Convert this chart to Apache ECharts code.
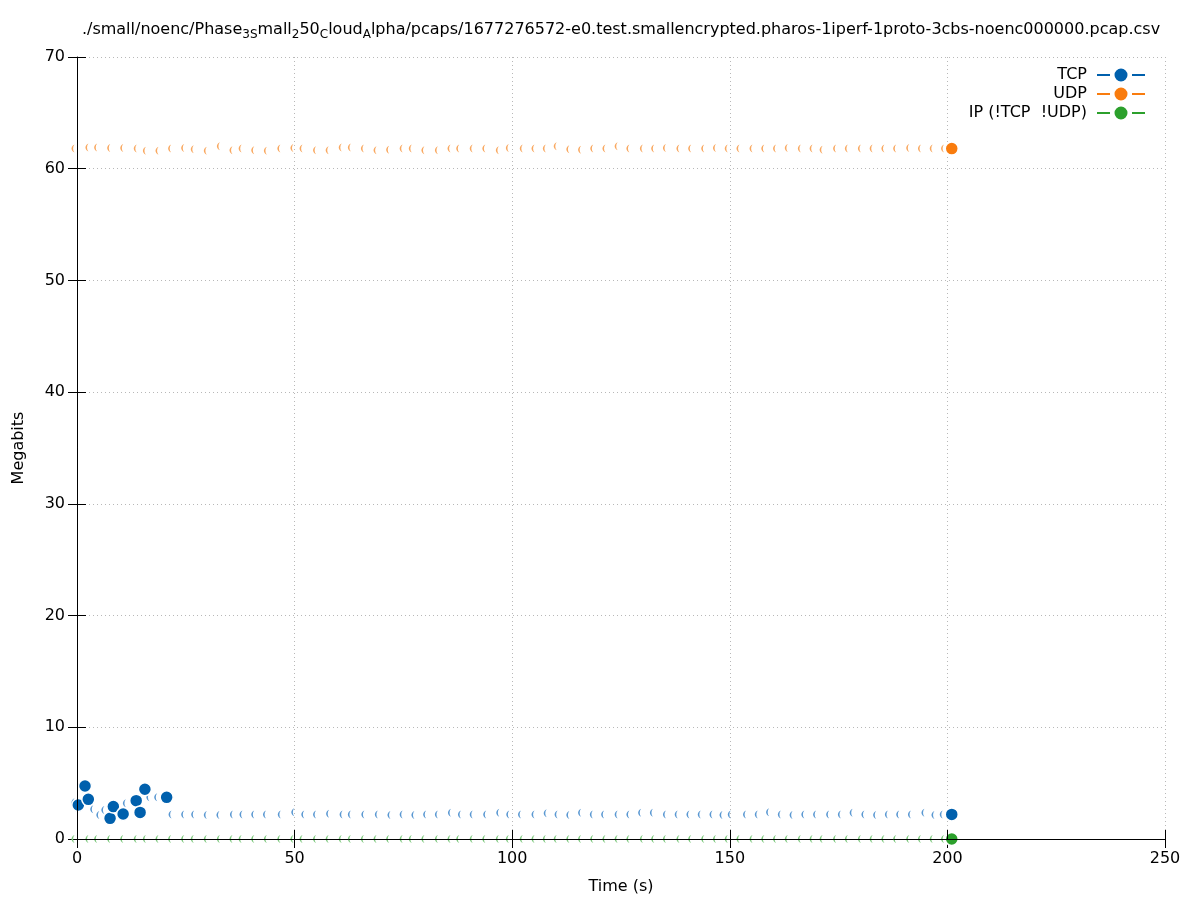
<!DOCTYPE html>
<html>
<head>
<meta charset="utf-8">
<script src="https://cdn.jsdelivr.net/npm/echarts@6/dist/echarts.min.js"></script>
<style>html,body{margin:0;padding:0;background:#fff}#c{width:1197px;height:900px}</style>
</head>
<body>
<div id="c"></div>
<script>
// ---- data ----
const seriesNames = ['TCP', 'UDP', 'IP (!TCP  !UDP)'];
const mainColors = ['#0060ad', '#f97c0e', '#2ca02c'];
const arcColors = ['#5a98d2', '#f9a860', '#7cc87c'];
const xTicks = [0, 50, 100, 150, 200, 250];
const yTicks = [0, 10, 20, 30, 40, 50, 60, 70];

// TCP: faint sample marks
const tcpTimes = [0, 4.3, 5.7, 6.85, 11.8, 17.2, 19.0, 22.3, 25.2, 27.5, 30.4, 33.3, 36.4, 38.6, 41.3, 44.0, 47.4, 50.5, 52.8, 55.5, 58.5, 61.6, 63.5, 66.6, 69.7, 72.6, 75.4, 78.1, 80.8, 83.5, 86.5, 88.8, 91.5, 94.6, 97.6, 99.9, 102.6, 105.7, 108.5, 111.0, 113.7, 116.4, 119.1, 121.7, 124.8, 127.5, 130.2, 132.9, 135.9, 138.6, 141.3, 143.9, 146.6, 148.9, 150.8, 154.3, 157.0, 159.6, 162.3, 165.0, 167.7, 170.4, 173.4, 176.1, 178.8, 181.5, 184.2, 186.9, 189.5, 192.2, 195.3, 197.6, 199.5];
const tcpValues = [3.3, 2.66, 2.15, 2.6, 3.2, 3.73, 3.73, 2.2, 2.2, 2.2, 2.15, 2.15, 2.2, 2.2, 2.2, 2.2, 2.2, 2.4, 2.2, 2.2, 2.25, 2.2, 2.2, 2.2, 2.2, 2.15, 2.2, 2.15, 2.2, 2.2, 2.35, 2.2, 2.2, 2.2, 2.35, 2.2, 2.2, 2.2, 2.3, 2.2, 2.15, 2.35, 2.2, 2.2, 2.2, 2.2, 2.35, 2.35, 2.2, 2.2, 2.2, 2.2, 2.2, 2.15, 2.2, 2.2, 2.2, 2.4, 2.2, 2.15, 2.2, 2.2, 2.2, 2.2, 2.35, 2.2, 2.15, 2.2, 2.2, 2.2, 2.35, 2.15, 2.2];
// TCP: full markers
const tcpDotTimes = [0.3, 1.84, 2.6, 7.6, 8.35, 10.6, 13.6, 14.5, 15.6, 20.6, 201];
const tcpDotValues = [3.04, 4.74, 3.55, 1.85, 2.9, 2.24, 3.43, 2.38, 4.45, 3.73, 2.2];

// UDP
const udpTimes = [0, 3.2, 5.2, 8.2, 11.2, 14.3, 16.4, 19.3, 22.2, 25.2, 27.4, 30.4, 33.4, 36.3, 38.4, 41.3, 44.2, 47.3, 50.3, 52.4, 55.5, 58.4, 61.4, 63.5, 66.5, 69.4, 72.3, 75.4, 77.5, 80.4, 83.5, 86.4, 88.4, 91.5, 94.4, 97.5, 99.8, 103.0, 105.7, 108.3, 110.8, 113.7, 116.4, 119.2, 122.0, 124.8, 127.5, 130.6, 133.2, 135.9, 139.0, 141.7, 144.7, 147.4, 150.1, 152.8, 155.8, 158.5, 161.2, 163.9, 166.9, 169.6, 171.9, 175.0, 177.7, 180.7, 183.4, 186.1, 188.8, 191.8, 194.5, 197.2, 199.8];
const udpValues = [61.8, 61.9, 61.9, 61.85, 61.85, 61.8, 61.6, 61.6, 61.8, 61.85, 61.75, 61.6, 62.0, 61.65, 61.8, 61.65, 61.6, 61.8, 61.85, 61.8, 61.65, 61.65, 61.9, 61.9, 61.8, 61.65, 61.7, 61.8, 61.8, 61.65, 61.65, 61.8, 61.8, 61.8, 61.8, 61.65, 61.85, 61.8, 61.8, 61.8, 62.0, 61.75, 61.7, 61.8, 61.8, 62.0, 61.8, 61.8, 61.8, 61.85, 61.8, 61.8, 61.8, 61.85, 61.8, 61.8, 61.8, 61.8, 61.8, 61.85, 61.8, 61.8, 61.7, 61.8, 61.8, 61.8, 61.8, 61.8, 61.8, 61.85, 61.8, 61.8, 61.8];
const udpDotTimes = [201];
const udpDotValues = [61.8];

// IP (!TCP !UDP)
const ipTimes = udpTimes;
const ipValues = [0,0,0,0,0,0,0,0,0,0,0,0,0,0,0,0,0,0,0,0,0,0,0,0,0,0,0,0,0,0,0,0,0,0,0,0,0,0,0,0,0,0,0,0,0,0,0,0,0,0,0,0,0,0,0,0,0,0,0,0,0,0,0,0,0,0,0,0,0,0,0,0,0];
const ipDotTimes = [201];
const ipDotValues = [0];

const titleParts = [
  ['n', './small/noenc/Phase'], ['s', '3S'], ['n', 'mall'], ['s', '2'], ['n', '50'], ['s', 'C'],
  ['n', 'loud'], ['s', 'A'], ['n', 'lpha/pcaps/1677276572-e0.test.smallencrypted.pharos-1iperf-1proto-3cbs-noenc000000.pcap.csv']
];

// ---- chart ----
const FONT = 'DejaVu Sans';
const FS = 16;
const pair = (t, v) => t.map((x, i) => [x, v[i]]);
const arcPath = 'path://M3,0 C0,2 0,6 3,8 C1.6,6 1.6,2 3,0 Z';
const legendIcon = 'path://M0,5.5h13v2h-13z M35,5.5h13v2h-13z M17.5,6.5a6.5,6.5 0 1,0 13,0a6.5,6.5 0 1,0 -13,0z';

const arcsets = [pair(tcpTimes, tcpValues), pair(udpTimes, udpValues), pair(ipTimes, ipValues)];
const dotsets = [pair(tcpDotTimes, tcpDotValues), pair(udpDotTimes, udpDotValues), pair(ipDotTimes, ipDotValues)];

const series = [];
seriesNames.forEach((name, k) => {
  series.push({
    name, type: 'scatter', z: 2, data: arcsets[k], symbol: arcPath, symbolSize: [3, 8], symbolOffset: [-4, 0],
    itemStyle: { color: arcColors[k], opacity: 1 }, silent: true
  });
});
seriesNames.forEach((name, k) => {
  series.push({
    name, type: 'scatter', z: 3, data: dotsets[k], symbol: 'circle', symbolSize: 13,
    itemStyle: { color: mainColors[k], borderColor: '#fff', borderWidth: 1.5, opacity: 1 }, silent: true
  });
});

const legends = seriesNames.map((name, k) => ({
  data: [{ name, icon: legendIcon, itemStyle: { color: mainColors[k], borderWidth: 0, opacity: 1 } }],
  orient: 'vertical', align: 'right', right: 52, top: 67 + k * 19, padding: 0,
  itemWidth: 48, itemHeight: 13, selectedMode: false,
  textStyle: { fontSize: FS, color: '#000', fontFamily: FONT, padding: [0, 5, 0, 0] }
}));

const baseAxisX = { type: 'value', min: xTicks[0], max: xTicks[xTicks.length - 1], interval: xTicks[1] - xTicks[0] };
const baseAxisY = { type: 'value', min: yTicks[0], max: yTicks[yTicks.length - 1], interval: yTicks[1] - yTicks[0] };
const gridLine = { show: true, lineStyle: { color: '#b8b8b8', width: 1, type: [1, 3] } };

const option = {
  animation: false,
  backgroundColor: '#fff',
  grid: { left: 77, right: 32, top: 57, bottom: 61 },
  xAxis: [
    Object.assign({}, baseAxisX, {
      position: 'bottom', z: 5,
      axisLine: { show: true, lineStyle: { color: '#000', width: 1 } },
      axisTick: { show: true, inside: true, length: 9, lineStyle: { color: '#000' } },
      axisLabel: { color: '#000', fontSize: FS, fontFamily: FONT, margin: 12 },
      splitLine: { show: false },
      name: 'Time (s)', nameLocation: 'middle', nameGap: 40,
      nameTextStyle: { color: '#000', fontSize: FS, fontFamily: FONT }
    }),
    Object.assign({}, baseAxisX, {
      position: 'top', z: 0,
      axisLine: { show: false },
      axisTick: { show: true, inside: true, length: 9, lineStyle: { color: '#000' } },
      axisLabel: { show: false },
      splitLine: gridLine
    })
  ],
  yAxis: [
    Object.assign({}, baseAxisY, {
      position: 'left', z: 5,
      axisLine: { show: true, lineStyle: { color: '#000', width: 1 } },
      axisTick: { show: true, inside: true, length: 9, lineStyle: { color: '#000' } },
      axisLabel: { color: '#000', fontSize: FS, fontFamily: FONT, margin: 12 },
      splitLine: { show: false },
      name: 'Megabits', nameLocation: 'middle', nameGap: 50,
      nameTextStyle: { color: '#000', fontSize: FS, fontFamily: FONT }
    }),
    Object.assign({}, baseAxisY, {
      position: 'right', z: 0,
      axisLine: { show: false },
      axisTick: { show: true, inside: true, length: 9, lineStyle: { color: '#000' } },
      axisLabel: { show: false },
      splitLine: gridLine
    })
  ],
  legend: legends,
  graphic: [{
    type: 'text', z: 10,
    style: {
      x: 621, y: 30, align: 'center', verticalAlign: 'middle',
      text: titleParts.map(p => '{' + p[0] + '|' + p[1] + '}').join(''),
      rich: {
        n: { fontSize: FS, fontFamily: FONT, fill: '#000', color: '#000' },
        s: { fontSize: 12, fontFamily: FONT, fill: '#000', color: '#000', padding: [9, 0, 0, 0] }
      }
    }
  }],
  series
};

const chart = echarts.init(document.getElementById('c'), null, { renderer: 'canvas' });
chart.setOption(option);
</script>
</body>
</html>
